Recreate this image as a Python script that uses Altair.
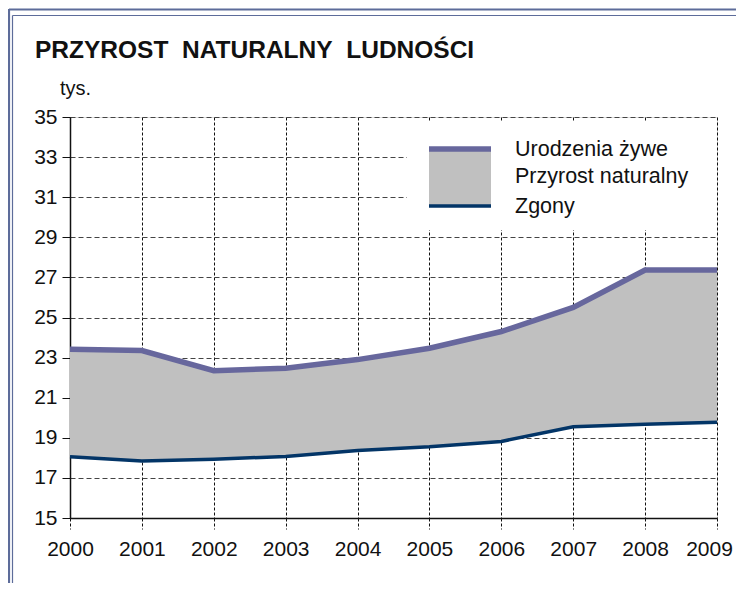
import altair as alt
import pandas as pd

years = [2000, 2001, 2002, 2003, 2004, 2005, 2006, 2007, 2008, 2009]
urodzenia = [23.42, 23.35, 22.35, 22.47, 22.90, 23.47, 24.30, 25.50, 27.37, 27.37]
zgony = [18.05, 17.84, 17.93, 18.07, 18.37, 18.55, 18.82, 19.55, 19.67, 19.78]
y_ticks = [15, 17, 19, 21, 23, 25, 27, 29, 31, 33, 35]
legend_labels = ["Urodzenia żywe", "Przyrost naturalny", "Zgony"]
title_text = "PRZYROST\u00a0\u00a0NATURALNY\u00a0\u00a0LUDNOŚCI"
unit_text = "tys."

FONT = "Liberation Sans"
PURPLE = "#67679d"
NAVY = "#033567"
GREY = "#c0c0c0"
FRAME = "#5d6c9a"

df = pd.DataFrame({"rok": years, "urodzenia": urodzenia, "zgony": zgony})

W, H = 647, 401

xenc = alt.X("rok:Q", scale=alt.Scale(domain=[2000, 2009], nice=False, zero=False),
             axis=alt.Axis(values=years, format="d", title=None, labelFontSize=21,
                           labelFont=FONT, labelColor="#111", tickSize=11, tickDash=[3, 2],
                           tickColor="#111", domainColor="#111", domainWidth=1.5,
                           labelPadding=9, grid=True, gridDash=[3, 2], gridColor="#111",
                           gridWidth=1, labelFlush=False,
                           labelOffset=alt.condition("datum.value == 2009",
                                                     alt.value(-8), alt.value(0))))
yenc_axis = alt.Axis(values=y_ticks, title=None, labelFontSize=21, labelFont=FONT,
                     labelColor="#111", tickSize=8, tickColor="#111", domainColor="#111",
                     domainWidth=1.5, labelPadding=5, grid=True, gridDash=[5, 3],
                     gridColor="#444", gridWidth=1)
yscale = alt.Scale(domain=[15, 35], nice=False, zero=False)

area = alt.Chart(df).mark_area(color=GREY, opacity=1).encode(
    x=xenc,
    y=alt.Y("zgony:Q", scale=yscale, axis=yenc_axis),
    y2="urodzenia:Q",
)
line_u = alt.Chart(df).mark_line(color=PURPLE, strokeWidth=5.5).encode(
    x="rok:Q", y="urodzenia:Q")
line_z = alt.Chart(df).mark_line(color=NAVY, strokeWidth=3.5).encode(
    x="rok:Q", y="zgony:Q")

one = alt.Data(values=[{}])

def rect(x, x2, y, y2, color):
    return alt.Chart(one).mark_rect(color=color, opacity=1).encode(
        x=alt.value(x), x2=alt.value(x2), y=alt.value(y), y2=alt.value(y2))

def rule(x, x2, y, y2, color, w):
    return alt.Chart(one).mark_rule(color=color, strokeWidth=w).encode(
        x=alt.value(x), x2=alt.value(x2), y=alt.value(y), y2=alt.value(y2))

def text(t, x, y, size, bold=False, align="left"):
    return alt.Chart(one).mark_text(text=t, font=FONT, fontSize=size,
                                    fontWeight="bold" if bold else "normal",
                                    align=align, baseline="alphabetic", color="#111").encode(
        x=alt.value(x), y=alt.value(y))

legend_box = rect(337, 646, 4, 113, "white")
swatch = rect(359, 421, 33, 89, GREY)
sw_top = rule(359, 421, 32, 32, PURPLE, 5.5)
sw_bot = rule(359, 421, 89, 89, NAVY, 3.5)
leg_t = [text(legend_labels[0], 445, 39, 21.5),
         text(legend_labels[1], 445, 66, 21.5),
         text(legend_labels[2], 445, 96, 21.5)]

title = text(title_text, -35, -59, 24.5, bold=True)
unit = text(unit_text, -10, -22, 20)

frame = [rule(-61, -61, -108, 470, FRAME, 2.2),
         rule(-61, 670, -107.5, -107.5, FRAME, 2.2),
         rule(-57.5, -57.5, -101.5, 470, FRAME, 1.2),
         rule(-57.5, 670, -101.5, -101.5, FRAME, 1.2)]

chart = alt.layer(area, line_u, line_z, legend_box, swatch, sw_top, sw_bot, *leg_t,
                  title, unit, *frame).properties(
    width=W, height=H,
    autosize=alt.AutoSizeParams(type="none"),
    padding={"left": 62, "top": 109, "right": 19, "bottom": 65},
).configure_view(stroke="#111", strokeWidth=1.5).configure(background="white")

chart.save("out.html", embed_options={"renderer": "svg", "actions": False})
